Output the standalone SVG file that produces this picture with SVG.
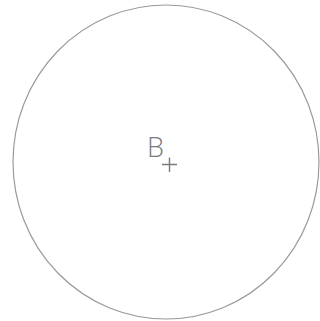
<svg xmlns="http://www.w3.org/2000/svg" width="320" height="321" viewBox="0 0 320 321">
<style>
.outline{fill:none;stroke:#9a9a9a;stroke-width:1.2}
.lbl{font-family:"Open Sans","DejaVu Sans",sans-serif;font-weight:300;font-size:27px;fill:#7a7a7a}
.mark{stroke:#7a7a7a;stroke-width:1.4;fill:none}
</style>
<rect width="320" height="321" fill="#ffffff"/>
<g id="circle">
<ellipse class="outline" cx="166" cy="162" rx="153" ry="157"/>
</g>
<g id="centre-B">
<text class="lbl" x="147" y="157">B</text>
<path class="mark" d="M162 164.5H177M169.5 157.5V172"/>
</g>
</svg>
